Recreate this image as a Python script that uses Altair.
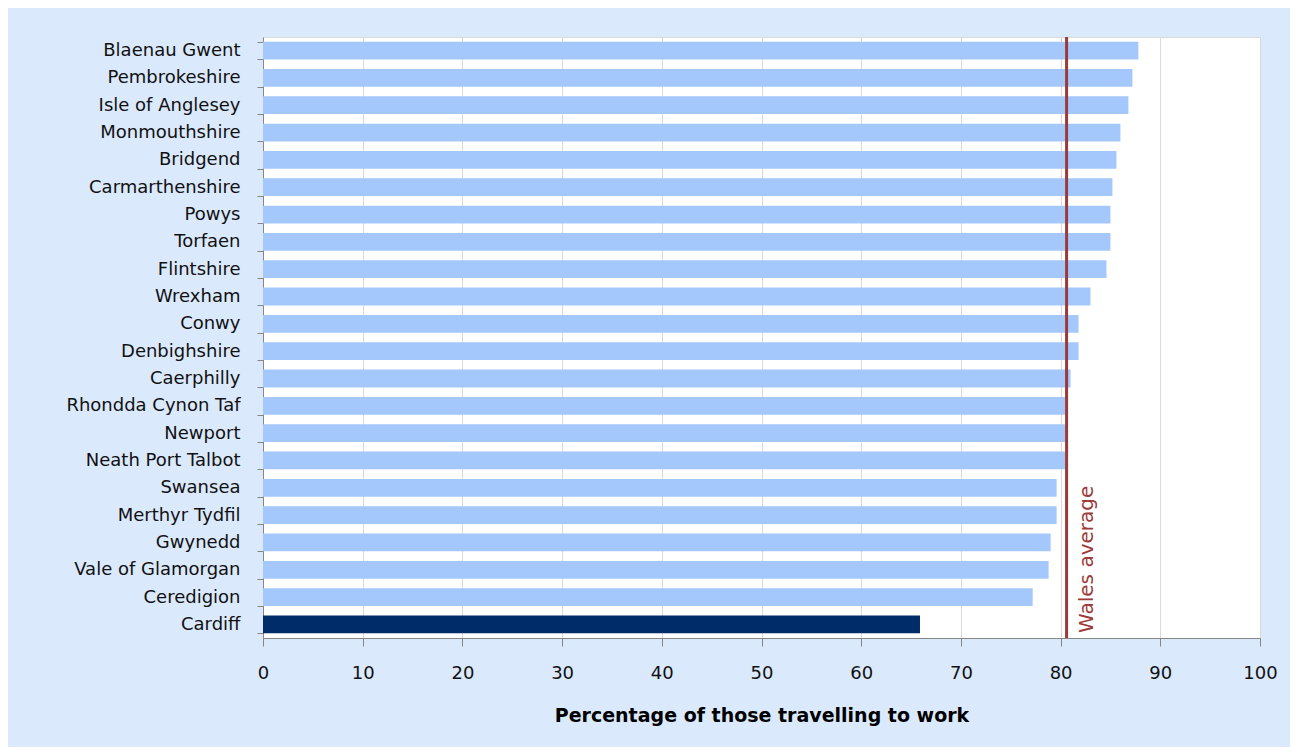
import altair as alt
import pandas as pd

categories = ["Blaenau Gwent", "Pembrokeshire", "Isle of Anglesey", "Monmouthshire",
              "Bridgend", "Carmarthenshire", "Powys", "Torfaen", "Flintshire",
              "Wrexham", "Conwy", "Denbighshire", "Caerphilly", "Rhondda Cynon Taf",
              "Newport", "Neath Port Talbot", "Swansea", "Merthyr Tydfil", "Gwynedd",
              "Vale of Glamorgan", "Ceredigion", "Cardiff"]
values = [87.8, 87.2, 86.8, 86.0, 85.6, 85.2, 85.0, 85.0, 84.6, 83.0, 81.8, 81.8,
          81.0, 80.5, 80.5, 80.5, 79.6, 79.6, 79.0, 78.8, 77.2, 65.9]
highlight = ["other"] * 21 + ["Cardiff"]
wales_average = 80.6
avg_label = "Wales average"
x_ticks = [0, 10, 20, 30, 40, 50, 60, 70, 80, 90, 100]
x_title = "Percentage of those travelling to work"

df = pd.DataFrame({"area": categories, "pct": values, "group": highlight})
avg_df = pd.DataFrame({"avg": [wales_average], "label": [avg_label]})

FONT = "DejaVu Sans"

bars = alt.Chart(df).mark_bar().encode(
    y=alt.Y("area:N", sort=categories,
            scale=alt.Scale(paddingInner=0.35, paddingOuter=0.17),
            axis=alt.Axis(title=None, tickBand="extent", tickSize=6, tickColor="#868686",
                          domainColor="#868686", labelPadding=17, labelFontSize=18,
                          labelFont=FONT, labelColor="#111111", grid=False)),
    x=alt.X("pct:Q", scale=alt.Scale(domain=[0, 100], nice=False),
            axis=alt.Axis(values=x_ticks, title=x_title, tickSize=8, tickColor="#868686",
                          domainColor="#868686", gridColor="#d9d9d9", grid=True,
                          labelFlush=False, labelOverlap=False,
                          labelPadding=18, labelFontSize=18, labelFont=FONT,
                          labelColor="#111111", titleFont=FONT, titleFontSize=19,
                          titleFontWeight="bold", titlePadding=24, titleColor="#000000")),
    color=alt.Color("group:N", scale=alt.Scale(domain=["other", "Cardiff"],
                                               range=["#a4c8fb", "#002d69"]), legend=None),
)

rule = alt.Chart(avg_df).mark_rule(color="#9b3a38", strokeWidth=3).encode(x="avg:Q")

label = alt.Chart(avg_df).mark_text(angle=270, align="left", baseline="top", dy=10,
                                    fontSize=20, font=FONT, color="#9b3a38").encode(
    x="avg:Q", y=alt.value(596), text="label:N")

chart = alt.layer(bars, rule, label).properties(
    width=997, height=601,
    autosize=alt.AutoSizeParams(type="none"),
    padding={"left": 255, "top": 29, "right": 30, "bottom": 109},
    background="#dbe9fd",
).configure_view(fill="white", stroke="#d9d9d9")

chart.save("out.html", embed_options={"renderer": "svg", "actions": False})
